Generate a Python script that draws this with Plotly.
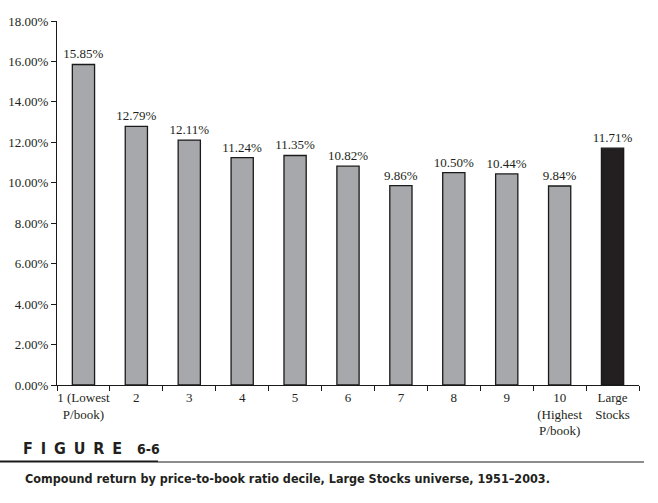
import plotly.graph_objects as go

categories = ["1 (Lowest<br>P/book)", "2", "3", "4", "5", "6", "7", "8", "9",
              "10<br>(Highest<br>P/book)", "Large<br>Stocks"]
returns = [15.85, 12.79, 12.11, 11.24, 11.35, 10.82, 9.86, 10.50, 10.44, 9.84, 11.71]
bar_colors = ["#a7a8ab"] * 10 + ["#231f20"]

serif = "Liberation Serif, Times New Roman, serif"
cond = "Liberation Sans Narrow, DejaVu Sans Condensed, Arial Narrow, sans-serif"

fig = go.Figure(go.Bar(
    x=categories, y=returns, width=0.42,
    marker=dict(color=bar_colors, line=dict(color="#1a1a1a", width=1.3)),
    text=[f"{v:.2f}%" for v in returns],
    textposition="outside", cliponaxis=False, constraintext="none",
    textfont=dict(family=serif, size=13, color="#231f20"),
))

L, R, T, B = 57, 19, 21, 118
W, H = 658, 503
pw, ph = W - L - R, H - T - B

def px(x):
    return (x - L) / pw

def py(y):
    return (H - B - y) / ph

sp = "&nbsp;&#8201;"
fig_label = ("<b>" + sp.join("FIGURE") + "&nbsp;&nbsp;&nbsp;"
             + "<span style='font-size:14px'>6-6</span></b>")

fig.update_layout(
    width=W, height=H,
    margin=dict(l=L, r=R, t=T, b=B),
    paper_bgcolor="white", plot_bgcolor="white",
    showlegend=False,
    font=dict(family=serif, size=13, color="#231f20"),
    xaxis=dict(showline=True, linecolor="#1a1a1a", linewidth=1,
               ticks="outside", ticklen=5, tickcolor="#1a1a1a",
               tickson="boundaries", showgrid=False, tickangle=0, automargin=False,
               tickfont=dict(family=serif, size=13, color="#231f20")),
    yaxis=dict(range=[0, 18], dtick=2, showline=True, linecolor="#1a1a1a",
               linewidth=1, ticks="outside", ticklen=5, tickcolor="#1a1a1a",
               showgrid=False, zeroline=False, tickformat=".2f", ticksuffix="%",
               automargin=False,
               tickfont=dict(family=serif, size=13, color="#231f20")),
    shapes=[
        dict(type="line", xref="paper", yref="paper", x0=px(0), x1=px(158),
             y0=py(461.5), y1=py(461.5), line=dict(color="#1a1a1a", width=2.2)),
        dict(type="line", xref="paper", yref="paper", x0=px(158), x1=px(644),
             y0=py(462), y1=py(462), line=dict(color="#1a1a1a", width=1)),
    ],
    annotations=[
        dict(xref="paper", yref="paper", x=px(21), y=py(448), xanchor="left",
             yanchor="middle", showarrow=False, text=fig_label,
             font=dict(family=cond, size=16, color="#231f20")),
        dict(xref="paper", yref="paper", x=px(23), y=py(478), xanchor="left",
             yanchor="middle", showarrow=False,
             text="<b>Compound return by price-to-book ratio decile, Large Stocks universe, 1951–2003.</b>",
             font=dict(family=cond, size=12.5, color="#231f20")),
    ],
)

fig.write_html("out.html", config={"displayModeBar": False},
               post_script="document.body.style.margin='0px';document.body.style.overflow='hidden';")
